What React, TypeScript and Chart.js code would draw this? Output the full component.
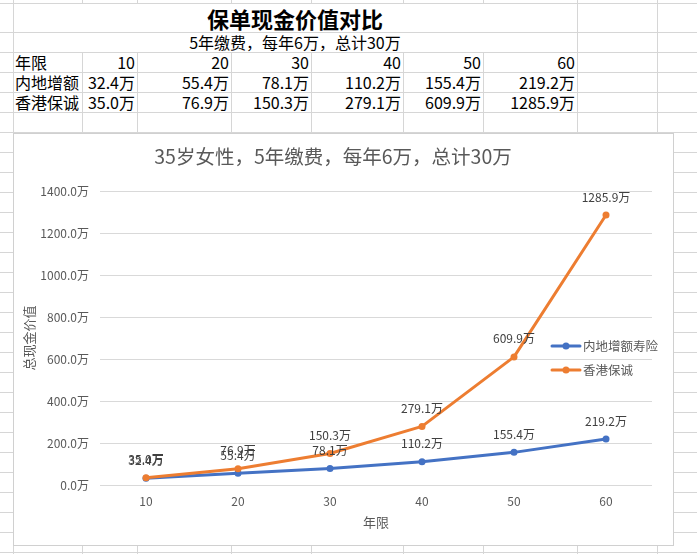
import React, { useEffect, useRef } from "react";
import { Chart, registerables } from "chart.js";

Chart.register(...registerables);

// ---------- data ----------
const years = ["10", "20", "30", "40", "50", "60"];
const mainland = [32.4, 55.4, 78.1, 110.2, 155.4, 219.2];
const hongkong = [35.0, 76.9, 150.3, 279.1, 609.9, 1285.9];
const seriesNames = ["内地增额寿险", "香港保诚"];
const rowNames = ["年限", "内地增额", "香港保诚"];
const seriesColors = ["#4472C4", "#ED7D31"];
const yMin = 0;
const yMax = 1400;
const yStep = 200;
const sheetTitle = "保单现金价值对比";
const sheetSubtitle = "5年缴费，每年6万，总计30万";
const chartTitle = "35岁女性，5年缴费，每年6万，总计30万";
const xTitle = "年限";
const yTitle = "总现金价值";

// ---------- layout of the sheet ----------
const FONT = '"Noto Sans CJK SC", "Noto Sans", sans-serif';
const colEdges = [13, 82, 137, 231, 311, 403, 483, 577, 657];
const mergedCols = [82, 137, 231, 311, 403, 483];
const rowEdges: number[] = [3, 32];
for (let y = 52; y <= 554; y += 20) rowEdges.push(y);
const GRID = "#d6d6d6";

const fmt = (v: number) => v.toFixed(1) + "万";

const dataLabelPlugin = {
  id: "dataLabels",
  afterDatasetsDraw(chart: any) {
    const ctx = chart.ctx;
    ctx.save();
    ctx.font = `12px ${FONT}`;
    ctx.fillStyle = "#404040";
    ctx.textAlign = "center";
    ctx.textBaseline = "middle";
    chart.data.datasets.forEach((ds: any, i: number) => {
      const meta = chart.getDatasetMeta(i);
      meta.data.forEach((pt: any, j: number) => {
        ctx.fillText(fmt(ds.data[j]), pt.x, pt.y - 18);
      });
    });
    ctx.restore();
  },
};

const legendPlugin = {
  id: "customLegend",
  afterDraw(chart: any) {
    const ctx = chart.ctx;
    const x0 = chart.chartArea.right - 100;
    const y0 = 212;
    ctx.save();
    ctx.font = `12.5px ${FONT}`;
    ctx.textAlign = "left";
    ctx.textBaseline = "middle";
    chart.data.datasets.forEach((ds: any, i: number) => {
      const y = y0 + i * 24;
      ctx.strokeStyle = ds.borderColor;
      ctx.lineWidth = 3;
      ctx.lineCap = "round";
      ctx.beginPath();
      ctx.moveTo(x0, y);
      ctx.lineTo(x0 + 28, y);
      ctx.stroke();
      ctx.fillStyle = ds.borderColor;
      ctx.beginPath();
      ctx.arc(x0 + 14, y, 3.5, 0, Math.PI * 2);
      ctx.fill();
      ctx.fillStyle = "#595959";
      ctx.fillText(ds.label, x0 + 31, y + 0.5);
    });
    ctx.restore();
  },
};

function ChartBox() {
  const ref = useRef<HTMLCanvasElement>(null);
  useEffect(() => {
    if (!ref.current) return;
    const chart = new Chart(ref.current, {
      type: "line",
      data: {
        labels: years,
        datasets: [
          {
            label: seriesNames[0],
            data: mainland,
            borderColor: seriesColors[0],
            backgroundColor: seriesColors[0],
            pointBackgroundColor: seriesColors[0],
            borderWidth: 3,
            pointRadius: 3.5,
            pointBorderWidth: 0,
            borderJoinStyle: "round",
            borderCapStyle: "round",
            order: 1,
          },
          {
            label: seriesNames[1],
            data: hongkong,
            borderColor: seriesColors[1],
            backgroundColor: seriesColors[1],
            pointBackgroundColor: seriesColors[1],
            borderWidth: 3,
            pointRadius: 3.5,
            pointBorderWidth: 0,
            borderJoinStyle: "round",
            borderCapStyle: "round",
            order: 0,
          },
        ],
      },
      options: {
        responsive: false,
        animation: false,
        devicePixelRatio: 1,
        layout: { padding: { left: 0, right: 21, top: 0, bottom: 10 } },
        plugins: {
          legend: { display: false },
          tooltip: { enabled: false },
          title: {
            display: true,
            text: chartTitle,
            color: "#595959",
            font: { family: FONT, size: 19.5, weight: "normal" },
            padding: { top: 11, bottom: 22.6 },
          },
        },
        scales: {
          x: {
            offset: true,
            grid: { display: false, drawTicks: false },
            border: { display: false },
            ticks: { color: "#595959", font: { family: FONT, size: 12 }, padding: 9 },
            title: {
              display: true,
              text: xTitle,
              color: "#595959",
              font: { family: FONT, size: 13 },
              padding: { top: 0, bottom: 5 },
            },
            afterFit: (s: any) => {
              s.height = 50;
            },
          },
          y: {
            min: yMin,
            max: yMax,
            grid: { color: "#d9d9d9", drawTicks: false },
            border: { display: false },
            ticks: {
              stepSize: yStep,
              color: "#595959",
              font: { family: FONT, size: 12 },
              padding: 11,
              callback: (v: any) => fmt(Number(v)),
            },
            title: {
              display: true,
              text: yTitle,
              color: "#595959",
              font: { family: FONT, size: 13 },
              padding: { top: 7, bottom: 0 },
            },
            afterFit: (s: any) => {
              s.width = 86;
            },
          },
        },
      },
      plugins: [dataLabelPlugin, legendPlugin],
    } as any);
    return () => chart.destroy();
  }, []);
  return <canvas ref={ref} width={659} height={411} style={{ width: 659, height: 411, display: "block" }} />;
}

export default function App() {
  const lines: React.ReactNode[] = [];
  rowEdges.forEach((y, i) =>
    lines.push(
      <div key={"h" + i} style={{ position: "absolute", left: 0, top: y, width: 697, height: 1, background: GRID }} />
    )
  );
  colEdges.forEach((x, i) => {
    if (mergedCols.includes(x)) {
      lines.push(
        <div key={"va" + i} style={{ position: "absolute", left: x, top: 0, width: 1, height: 3, background: GRID }} />
      );
      lines.push(
        <div key={"vb" + i} style={{ position: "absolute", left: x, top: 52, width: 1, height: 502, background: GRID }} />
      );
    } else {
      lines.push(
        <div key={"v" + i} style={{ position: "absolute", left: x, top: 0, width: 1, height: 554, background: GRID }} />
      );
    }
  });

  const rows: string[][] = [
    years,
    mainland.map(fmt),
    hongkong.map(fmt),
  ];
  const cells: React.ReactNode[] = [];
  rows.forEach((vals, r) => {
    const top = 52 + r * 20;
    cells.push(
      <div
        key={"n" + r}
        style={{
          position: "absolute",
          left: colEdges[0] + 2,
          top,
          width: colEdges[1] - colEdges[0] - 2,
          height: 20,
          display: "flex",
          alignItems: "center",
          whiteSpace: "nowrap",
          overflow: "visible",
        }}
      >
        {rowNames[r]}
      </div>
    );
    vals.forEach((v, c) => {
      const l = colEdges[c + 1];
      const rr = colEdges[c + 2];
      cells.push(
        <div
          key={"c" + r + "_" + c}
          style={{
            position: "absolute",
            left: l,
            top,
            width: rr - l - 2,
            height: 20,
            display: "flex",
            alignItems: "center",
            justifyContent: "flex-end",
            whiteSpace: "nowrap",
          }}
        >
          {v}
        </div>
      );
    });
  });

  return (
    <div
      style={{
        position: "absolute",
        left: 0,
        top: 0,
        width: 697,
        height: 554,
        background: "#fff",
        overflow: "hidden",
        fontFamily: FONT,
        fontSize: 16,
        color: "#000",
        lineHeight: 1,
      }}
    >
      {lines}
      <div
        style={{
          position: "absolute",
          left: 13,
          top: 3,
          width: 577 - 13,
          height: 29,
          display: "flex",
          alignItems: "center",
          justifyContent: "center",
          fontSize: 22,
          fontWeight: "bold",
        }}
      >
        {sheetTitle}
      </div>
      <div
        style={{
          position: "absolute",
          left: 13,
          top: 32,
          width: 577 - 13,
          height: 20,
          display: "flex",
          alignItems: "center",
          justifyContent: "center",
          fontSize: 16,
        }}
      >
        {sheetSubtitle}
      </div>
      {cells}
      <div
        style={{
          position: "absolute",
          left: 13,
          top: 133,
          width: 661,
          height: 413,
          border: "1px solid #d0d0d0",
          boxSizing: "border-box",
          background: "#fff",
        }}
      >
        <ChartBox />
      </div>
    </div>
  );
}
